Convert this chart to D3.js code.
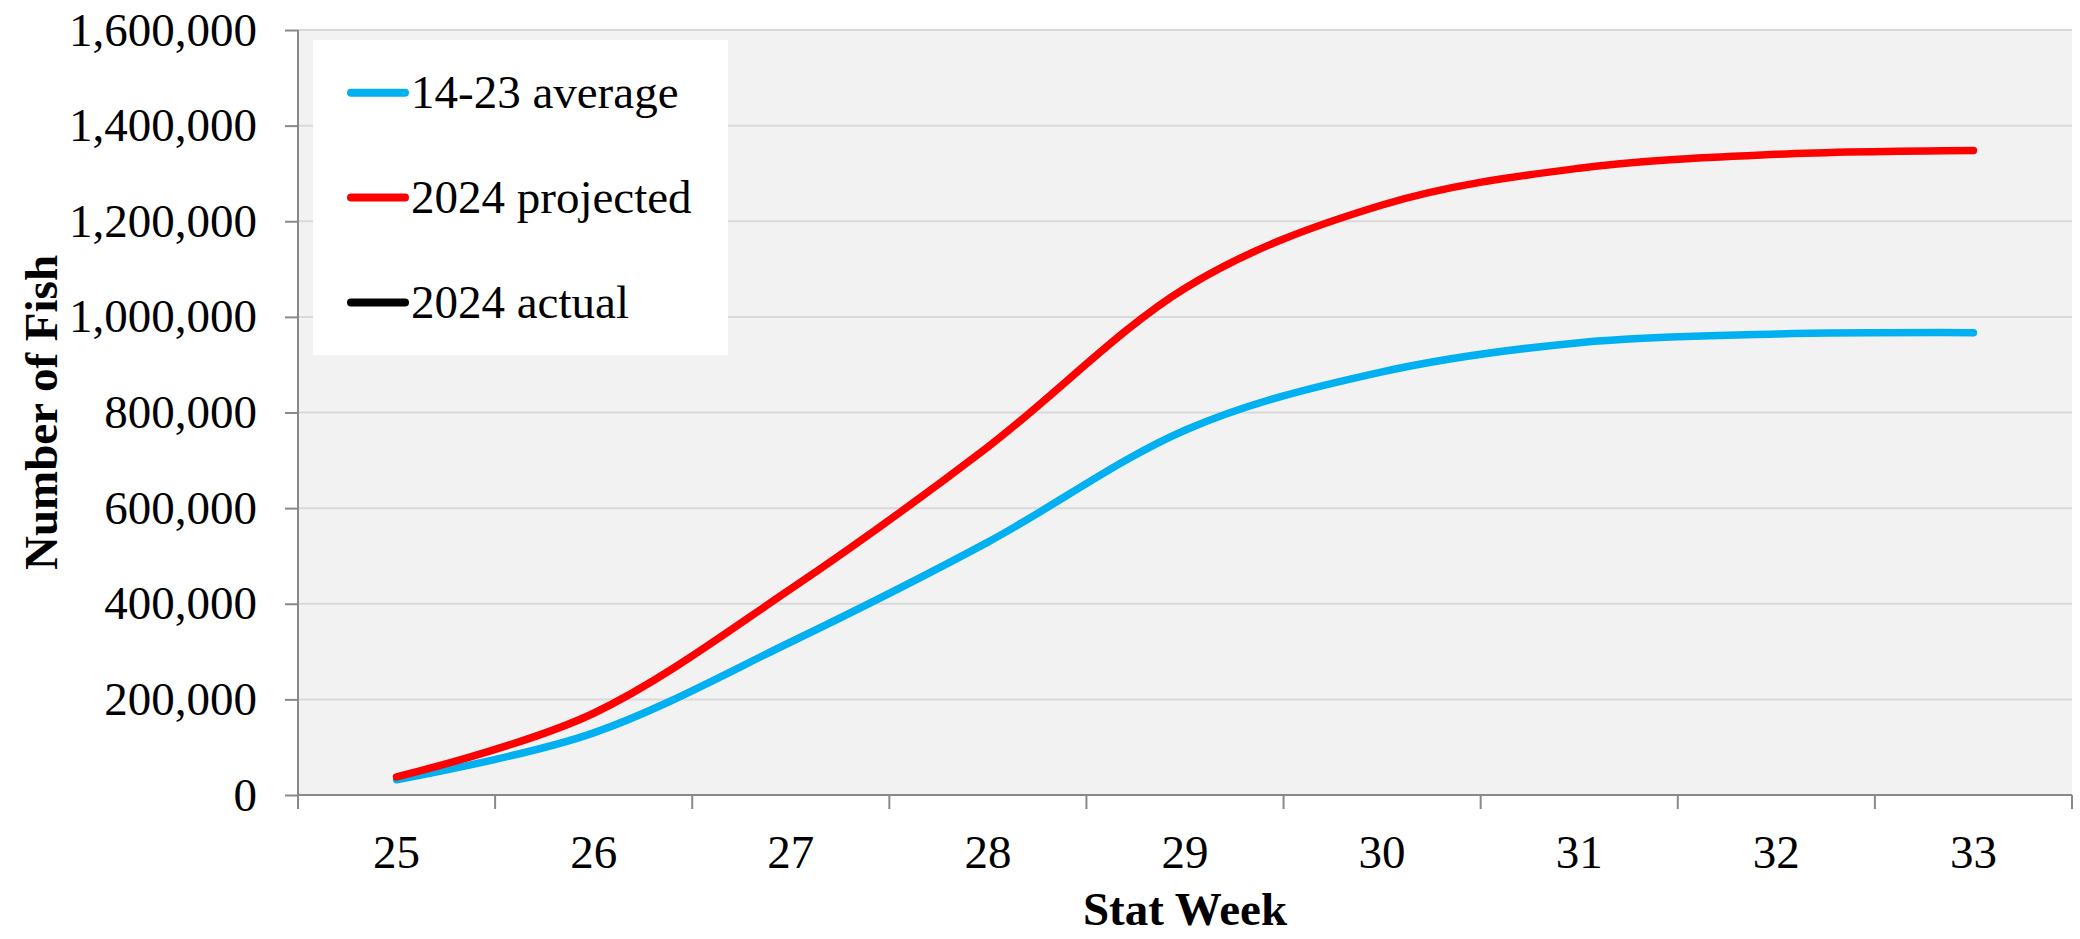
<!DOCTYPE html>
<html>
<head>
<meta charset="utf-8">
<script src="https://cdn.jsdelivr.net/npm/d3@7"></script>
<style>
  html, body { margin: 0; padding: 0; background: #fff; }
  svg { display: block; }
  svg text { font-family: "Liberation Serif", "Times New Roman", serif !important; }
</style>
</head>
<body>
<svg id="chart" width="2080" height="939"></svg>
<script>
// ---- data ----
const weeks = [25, 26, 27, 28, 29, 30, 31, 32, 33];
const average14to23 = [32000, 130000, 320000, 529000, 763000, 885000, 946000, 964000, 967000];
const projected2024 = [38000, 171000, 431000, 728000, 1060000, 1234000, 1311000, 1340000, 1348000];
const actual2024 = [];
const yTicks = [0, 200000, 400000, 600000, 800000, 1000000, 1200000, 1400000, 1600000];
const seriesNames = ["14-23 average", "2024 projected", "2024 actual"];
const seriesColors = ["#00B0F0", "#FF0000", "#000000"];
const xTitle = "Stat Week";
const yTitle = "Number of Fish";

// ---- layout ----
const pLeft = 298, pRight = 2072, pTop = 30, pBottom = 795;
const svg = d3.select("#chart");

const x = d3.scaleBand().domain(weeks).range([pLeft, pRight]).padding(0);
const y = d3.scaleLinear().domain([0, 1600000]).range([pBottom, pTop]);

// plot background
svg.append("rect").attr("x", pLeft).attr("y", pTop)
  .attr("width", pRight - pLeft).attr("height", pBottom - pTop).attr("fill", "#F2F2F2");

// gridlines
svg.append("g").selectAll("line").data(yTicks.filter(d => d > 0)).join("line")
  .attr("x1", pLeft).attr("x2", pRight)
  .attr("y1", d => y(d)).attr("y2", d => y(d))
  .attr("stroke", "#D9D9D9").attr("stroke-width", 2);

// y axis
const yAxis = svg.append("g").attr("transform", `translate(${pLeft},0)`)
  .call(d3.axisLeft(y).tickValues(yTicks).tickSize(13).tickPadding(28).tickFormat(d3.format(",")));
yAxis.select(".domain").remove();
yAxis.selectAll(".tick line").attr("stroke", "#898989").attr("stroke-width", 2);
yAxis.selectAll(".tick text").attr("font-size", 47).attr("fill", "#000");
svg.append("line").attr("x1", pLeft).attr("x2", pLeft).attr("y1", pTop).attr("y2", pBottom + 14)
  .attr("stroke", "#898989").attr("stroke-width", 2);

// x axis labels
const xAxis = svg.append("g").attr("transform", `translate(0,${pBottom})`)
  .call(d3.axisBottom(x).tickSize(0).tickPadding(40));
xAxis.select(".domain").remove();
xAxis.selectAll(".tick text").attr("font-size", 47).attr("fill", "#000");
svg.append("line").attr("x1", pLeft).attr("x2", pRight).attr("y1", pBottom).attr("y2", pBottom)
  .attr("stroke", "#898989").attr("stroke-width", 2);
const bounds = weeks.map(w => x(w)).concat([x(weeks[weeks.length - 1]) + x.bandwidth()]);
svg.append("g").selectAll("line").data(bounds).join("line")
  .attr("x1", d => d).attr("x2", d => d).attr("y1", pBottom).attr("y2", pBottom + 14)
  .attr("stroke", "#898989").attr("stroke-width", 2);

// lines
const line = d3.line()
  .x((d, i) => x(weeks[i]) + x.bandwidth() / 2)
  .y(d => y(d))
  .curve(d3.curveCatmullRom.alpha(0));
[average14to23, projected2024, actual2024].forEach((s, i) => {
  if (!s.length) return;
  svg.append("path").datum(s).attr("d", line)
    .attr("fill", "none").attr("stroke", seriesColors[i]).attr("stroke-width", 7.5)
    .attr("stroke-linecap", "round").attr("stroke-linejoin", "round");
});

// legend
const lg = svg.append("g");
lg.append("rect").attr("x", 313).attr("y", 40).attr("width", 415).attr("height", 315).attr("fill", "#fff");
const legendY = [92.7, 197.5, 302.5];
seriesNames.forEach((n, i) => {
  lg.append("line").attr("x1", 351).attr("x2", 405).attr("y1", legendY[i]).attr("y2", legendY[i])
    .attr("stroke", seriesColors[i]).attr("stroke-width", 8).attr("stroke-linecap", "round");
  lg.append("text").attr("x", 411).attr("y", legendY[i] + 15).attr("font-size", 47).attr("fill", "#000")
    .text(n);
});

// axis titles
svg.append("text").attr("x", pLeft + (pRight - pLeft) / 2).attr("y", 925)
  .attr("text-anchor", "middle").attr("font-size", 47).attr("font-weight", "bold").text(xTitle);
svg.append("text").attr("transform", `translate(57,${(pTop + pBottom) / 2}) rotate(-90)`)
  .attr("text-anchor", "middle").attr("font-size", 47).attr("font-weight", "bold").text(yTitle);
</script>
</body>
</html>
